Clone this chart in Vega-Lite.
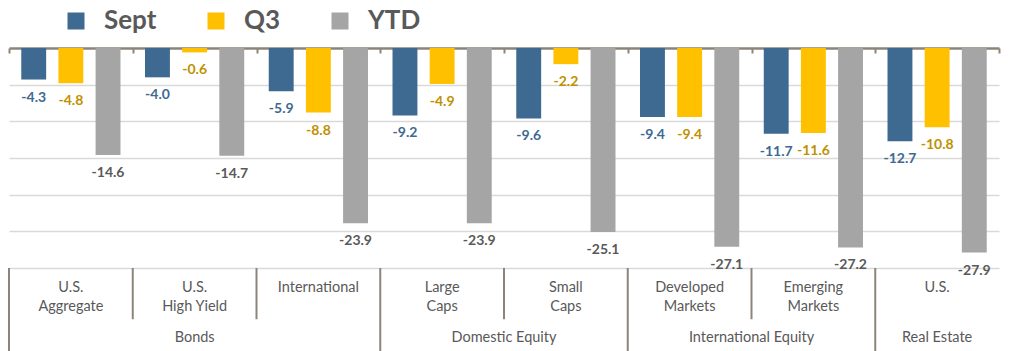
{
  "$schema": "https://vega.github.io/schema/vega-lite/v6.json",
  "padding": {"left": 8, "top": 8, "right": 14, "bottom": 0},
  "spacing": 0,
  "bounds": "flush",
  "config": {
    "view": {"stroke": null},
    "font": "Lato",
    "locale": {"number": {"decimal": ".", "thousands": ",", "grouping": [3], "currency": ["$", ""], "minus": "-"}}
  },
  "datasets": {
    "returns": [
      {"asset": "U.S. Aggregate", "group": "Bonds", "period": "Sept", "value": -4.3},
      {"asset": "U.S. Aggregate", "group": "Bonds", "period": "Q3", "value": -4.8},
      {"asset": "U.S. Aggregate", "group": "Bonds", "period": "YTD", "value": -14.6},
      {"asset": "U.S. High Yield", "group": "Bonds", "period": "Sept", "value": -4.0},
      {"asset": "U.S. High Yield", "group": "Bonds", "period": "Q3", "value": -0.6},
      {"asset": "U.S. High Yield", "group": "Bonds", "period": "YTD", "value": -14.7},
      {"asset": "International", "group": "Bonds", "period": "Sept", "value": -5.9},
      {"asset": "International", "group": "Bonds", "period": "Q3", "value": -8.8},
      {"asset": "International", "group": "Bonds", "period": "YTD", "value": -23.9},
      {"asset": "Large Caps", "group": "Domestic Equity", "period": "Sept", "value": -9.2},
      {"asset": "Large Caps", "group": "Domestic Equity", "period": "Q3", "value": -4.9},
      {"asset": "Large Caps", "group": "Domestic Equity", "period": "YTD", "value": -23.9},
      {"asset": "Small Caps", "group": "Domestic Equity", "period": "Sept", "value": -9.6},
      {"asset": "Small Caps", "group": "Domestic Equity", "period": "Q3", "value": -2.2},
      {"asset": "Small Caps", "group": "Domestic Equity", "period": "YTD", "value": -25.1},
      {"asset": "Developed Markets", "group": "International Equity", "period": "Sept", "value": -9.4},
      {"asset": "Developed Markets", "group": "International Equity", "period": "Q3", "value": -9.4},
      {"asset": "Developed Markets", "group": "International Equity", "period": "YTD", "value": -27.1},
      {"asset": "Emerging Markets", "group": "International Equity", "period": "Sept", "value": -11.7},
      {"asset": "Emerging Markets", "group": "International Equity", "period": "Q3", "value": -11.6},
      {"asset": "Emerging Markets", "group": "International Equity", "period": "YTD", "value": -27.2},
      {"asset": "U.S.", "group": "Real Estate", "period": "Sept", "value": -12.7},
      {"asset": "U.S.", "group": "Real Estate", "period": "Q3", "value": -10.8},
      {"asset": "U.S.", "group": "Real Estate", "period": "YTD", "value": -27.9}
    ],
    "separators": [
      {"pos": 0, "top": 0, "bottom": 5},
      {"pos": 1, "top": 0, "bottom": 3.05},
      {"pos": 2, "top": 0, "bottom": 3.05},
      {"pos": 3, "top": 0, "bottom": 5},
      {"pos": 4, "top": 0, "bottom": 3.05},
      {"pos": 5, "top": 0, "bottom": 5},
      {"pos": 6, "top": 0, "bottom": 3.05},
      {"pos": 7, "top": 0, "bottom": 5}
    ],
    "assetLabels": [
      {"pos": 0.5, "row": 0.75, "label": "U.S.\nAggregate"},
      {"pos": 1.5, "row": 0.75, "label": "U.S.\nHigh Yield"},
      {"pos": 2.5, "row": 0.75, "label": "International"},
      {"pos": 3.5, "row": 0.75, "label": "Large\nCaps"},
      {"pos": 4.5, "row": 0.75, "label": "Small\nCaps"},
      {"pos": 5.5, "row": 0.75, "label": "Developed\nMarkets"},
      {"pos": 6.5, "row": 0.75, "label": "Emerging\nMarkets"},
      {"pos": 7.5, "row": 0.75, "label": "U.S."}
    ],
    "groupLabels": [
      {"pos": 1.5, "row": 4.17, "label": "Bonds"},
      {"pos": 4, "row": 4.17, "label": "Domestic Equity"},
      {"pos": 6, "row": 4.17, "label": "International Equity"},
      {"pos": 7.5, "row": 4.17, "label": "Real Estate"}
    ]
  },
  "vconcat": [
    {
      "width": 990,
      "height": 220,
      "data": {"name": "returns"},
      "encoding": {
        "x": {
          "field": "asset",
          "type": "nominal",
          "sort": null,
          "scale": {"paddingInner": 0, "paddingOuter": 0},
          "axis": {
            "orient": "top",
            "title": null,
            "labels": false,
            "domainColor": "#8C8479",
            "domainWidth": 2.5,
            "ticks": true,
            "tickBand": "extent",
            "tickColor": "#8C8479",
            "tickWidth": 2,
            "tickSize": -5
          }
        },
        "xOffset": {
          "field": "period",
          "type": "nominal",
          "sort": ["Sept", "Q3", "YTD"],
          "scale": {"paddingInner": 0.33, "paddingOuter": 0.33}
        },
        "y": {
          "field": "value",
          "type": "quantitative",
          "scale": {"domain": [-30, 0], "nice": false},
          "axis": {
            "title": null,
            "labels": false,
            "ticks": false,
            "domain": false,
            "grid": true,
            "gridColor": "#D9D9D9",
            "gridWidth": 1.5,
            "values": [-30, -25, -20, -15, -10, -5]
          }
        }
      },
      "layer": [
        {
          "mark": {"type": "bar"},
          "encoding": {
            "color": {
              "field": "period",
              "type": "nominal",
              "sort": ["Sept", "Q3", "YTD"],
              "scale": {"domain": ["Sept", "Q3", "YTD"], "range": ["#3E6990", "#FFC000", "#A5A5A5"]},
              "legend": {
                "orient": "none",
                "legendX": 54,
                "legendY": -40,
                "direction": "horizontal",
                "title": null,
                "symbolType": "square",
                "symbolSize": 289,
                "symbolStrokeWidth": 0,
                "symbolOpacity": 1,
                "labelFont": "Lato",
                "labelFontSize": 26,
                "labelFontWeight": "bold",
                "labelColor": "#595959",
                "labelOffset": 15,
                "columnPadding": 46
              }
            }
          }
        },
        {
          "mark": {"type": "text", "baseline": "middle", "dy": 18, "fontSize": 14, "fontWeight": "bold", "font": "Lato"},
          "encoding": {
            "text": {"field": "value", "type": "quantitative", "format": ".1f"},
            "color": {
              "condition": [
                {"test": "datum.period === 'Sept'", "value": "#3E6990"},
                {"test": "datum.period === 'Q3'", "value": "#C09000"}
              ],
              "value": "#595959"
            }
          }
        }
      ]
    },
    {
      "width": 990,
      "height": 84,
      "layer": [
        {
          "data": {"name": "separators"},
          "mark": {"type": "rule", "color": "#8C8479", "strokeWidth": 2},
          "encoding": {
            "x": {"field": "pos", "type": "quantitative", "scale": {"domain": [0, 8], "nice": false}, "axis": null},
            "y": {"field": "top", "type": "quantitative", "scale": {"domain": [0, 5], "nice": false, "reverse": true}, "axis": null},
            "y2": {"field": "bottom"}
          }
        },
        {
          "data": {"name": "assetLabels"},
          "mark": {"type": "text", "baseline": "top", "align": "center", "lineBreak": "\n", "lineHeight": 19, "fontSize": 14.5, "font": "Lato", "color": "#595959"},
          "encoding": {
            "x": {"field": "pos", "type": "quantitative", "scale": {"domain": [0, 8], "nice": false}, "axis": null},
            "y": {"field": "row", "type": "quantitative", "scale": {"domain": [0, 5], "nice": false, "reverse": true}, "axis": null},
            "text": {"field": "label"}
          }
        },
        {
          "data": {"name": "groupLabels"},
          "mark": {"type": "text", "baseline": "middle", "align": "center", "fontSize": 14.5, "font": "Lato", "color": "#595959"},
          "encoding": {
            "x": {"field": "pos", "type": "quantitative", "scale": {"domain": [0, 8], "nice": false}, "axis": null},
            "y": {"field": "row", "type": "quantitative", "scale": {"domain": [0, 5], "nice": false, "reverse": true}, "axis": null},
            "text": {"field": "label"}
          }
        }
      ]
    }
  ]
}
